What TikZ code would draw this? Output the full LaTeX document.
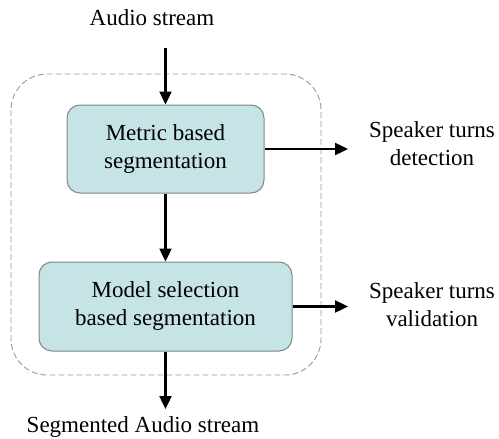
\documentclass[tikz,border=0pt]{standalone}
\usepackage{fontspec}
\setmainfont{Liberation Serif}
\usetikzlibrary{arrows.meta}
\definecolor{boxfill}{RGB}{198,228,230}
\definecolor{boxline}{RGB}{125,135,135}
\tikzstyle{every node}=[font=\fontsize{23}{28}\selectfont, align=center, inner sep=0pt]
\tikzstyle{stage}=[draw=boxline, line width=1pt, fill=boxfill, rounded corners=13pt]
\tikzstyle{flow}=[line width=2.4pt, -{Triangle[length=13pt,width=12pt]}]

\begin{document}
\begin{tikzpicture}[x=1pt, y=-1pt]
\useasboundingbox (0,0) rectangle (499,439);
% Frame
    \draw[gray!80, dash pattern=on 6pt off 3pt, line width=0.9pt, rounded corners=36pt] (11,74) rectangle (321,375);
% Stages
    \node[stage, minimum width=197pt, minimum height=88pt] (metric) at (165.5,149) {Metric based\\segmentation};
    \node[stage, minimum width=253pt, minimum height=89pt] (model) at (165.5,306.5) {Model selection\\based segmentation};
% Texts
    \node (input) at (152,18) {Audio stream};
    \node (output) at (143,427) {Segmented Audio stream};
    \node (detect) at (432,144) {Speaker turns\\detection};
    \node (valid) at (432,305) {Speaker turns\\validation};
% Ends of the arrows
    \coordinate (src) at (165.5,48);
    \coordinate (sink) at (165.5,409);
    \coordinate (detend) at (348,149);
    \coordinate (valend) at (348,306.5);
% Arrows
    \draw[flow] (src) -- (metric.north);
    \draw[flow] (metric.south) -- (model.north);
    \draw[flow] (model.south) -- (sink);
    \draw[flow] (metric.east) -- (detend);
    \draw[flow] (model.east) -- (valend);
\end{tikzpicture}
\end{document}
